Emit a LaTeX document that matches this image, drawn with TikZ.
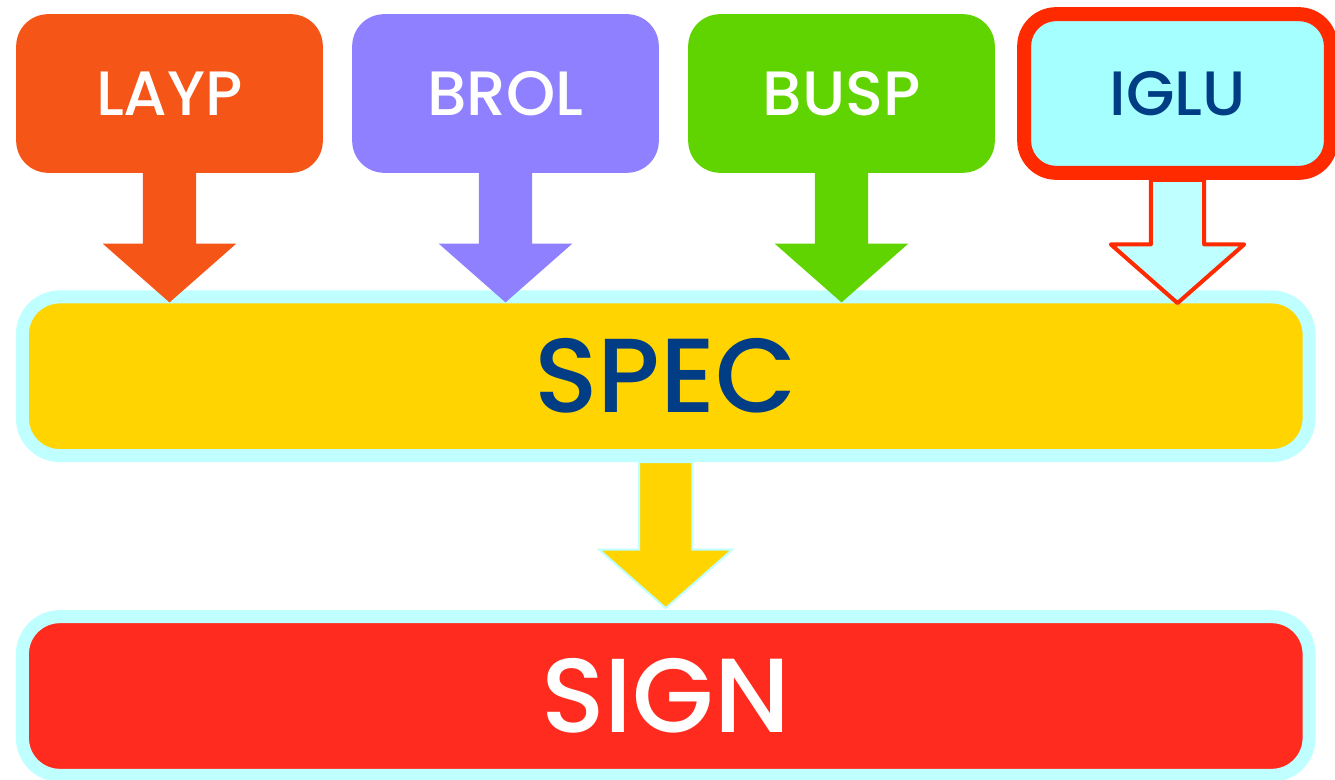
\documentclass[tikz,border=0pt]{standalone}
\usepackage{fontspec}
\setmainfont{Poppins}[UprightFont=* Medium]
\usetikzlibrary{calc}
\usetikzlibrary{positioning}

\definecolor{laypc}{HTML}{F55618}
\definecolor{brolc}{HTML}{8F80FF}
\definecolor{buspc}{HTML}{5FD400}
\definecolor{specc}{HTML}{FFD400}
\definecolor{signc}{HTML}{FF2B1F}
\definecolor{rimc}{HTML}{BFFFFF}
\definecolor{iglufill}{HTML}{A6FFFF}
\definecolor{iglurim}{HTML}{FF2A00}
\definecolor{navyc}{HTML}{003D85}

% block arrow: #1 style, #2 start, #3 tip
\newcommand{\blockarrow}[3]{%
  \path[#1] let \p1=(#2), \p2=(#3) in
    (\x2-20pt,\y1) -- (\x2-20pt,\y2+44pt) -- (\x2-50pt,\y2+44pt) -- (\x2,\y2)
    -- (\x2+50pt,\y2+44pt) -- (\x2+20pt,\y2+44pt) -- (\x2+20pt,\y1) -- cycle;}

\begin{document}
\begin{tikzpicture}[x=0.75pt,y=-0.75pt,
    topbox/.style={rounded corners=24pt,minimum width=230pt,minimum height=119pt,
      inner sep=0pt,text=white,font=\fontsize{47}{52}\selectfont},
    widebox/.style={rounded corners=28pt,draw=rimc,line width=9.75pt,
      minimum width=965pt,minimum height=119pt,inner sep=0pt,
      font=\fontsize{79}{84}\selectfont}]
  \useasboundingbox (0,0) rectangle (1335,780);

  % lower row
  \node[widebox,fill=specc,text=navyc] (spec) at (665.75,376.25) {SPEC};
  \node[widebox,fill=signc,text=white] (sign) at (665.75,696) {SIGN};

  % arrow into SIGN
  \blockarrow{fill=specc,draw=rimc,line width=1.5pt}{spec.south}{$(spec.south |- sign.north)+(0,1.5pt)$}

  % top row
  \node[topbox,fill=laypc] (layp) at (169.5,93.5) {LAYP};
  \node[topbox,fill=brolc] (brol) at (505.5,93.5) {BROL};
  \node[topbox,fill=buspc] (busp) at (841.5,93.5) {BUSP};

  \blockarrow{fill=laypc}{layp.south}{$(layp.south |- spec.north)+(0,-9pt)$}
  \blockarrow{fill=brolc}{brol.south}{$(brol.south |- spec.north)+(0,-9pt)$}
  \blockarrow{fill=buspc}{busp.south}{$(busp.south |- spec.north)+(0,-9pt)$}

  \node[topbox,fill=iglufill,draw=iglurim,line width=10.5pt,text=navyc] (iglu) at (1177.5,93.5) {IGLU};
  \blockarrow{fill=rimc,draw=iglurim,line width=3pt,line join=round}{iglu.south}{$(iglu.south |- spec.north)+(0,-9.5pt)$}
\end{tikzpicture}
\end{document}
